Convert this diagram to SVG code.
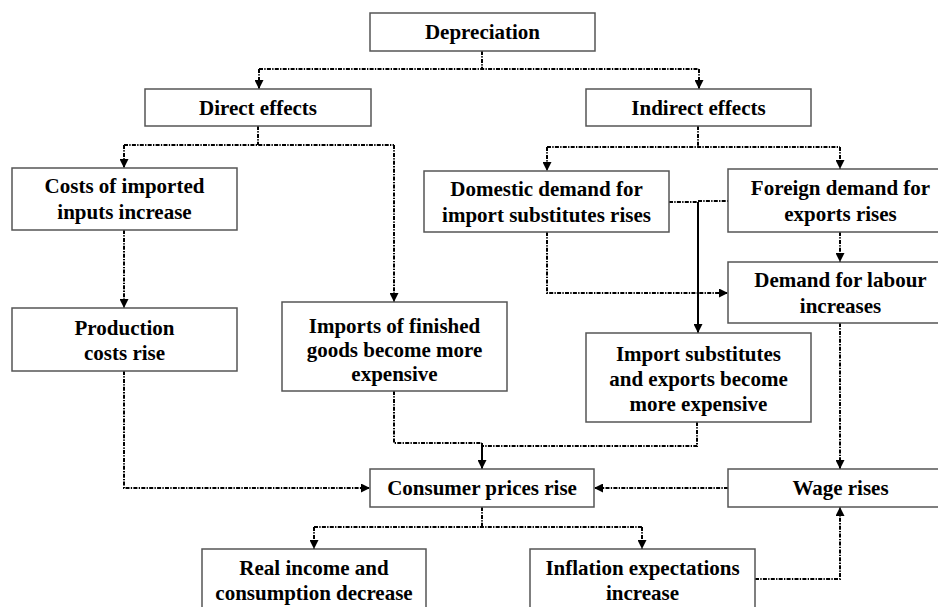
<svg xmlns="http://www.w3.org/2000/svg" width="938" height="607" viewBox="0 0 938 607">
<style>
.box{fill:#fff;stroke:#555;stroke-width:1.5}
.t{font-family:"Liberation Serif","Times New Roman",serif;font-weight:bold;font-size:21px;fill:#000;text-anchor:middle}
.d{fill:none;stroke:#000;stroke-width:2;stroke-dasharray:4 1.3 1.3 1.3}
.s{fill:none;stroke:#000;stroke-width:2}
</style>
<defs>
<marker id="ah" viewBox="0 0 10 10" refX="10" refY="5" markerWidth="10" markerHeight="9" markerUnits="userSpaceOnUse" orient="auto">
<path d="M0,0 L10,5 L0,10 z" fill="#000"/>
</marker>
</defs>
<rect width="938" height="607" fill="#fff"/>
<g id="connectors">
<path class="d" d="M482,51 V69 M259,69 H699"/>
<path class="d" d="M259,69 V89" marker-end="url(#ah)"/>
<path class="d" d="M699,69 V89" marker-end="url(#ah)"/>
<path class="d" d="M258,126 V145 M124,145 H394"/>
<path class="d" d="M124,145 V168" marker-end="url(#ah)"/>
<path class="d" d="M394,145 V302" marker-end="url(#ah)"/>
<path class="d" d="M698,126 V147 M547,147 H840"/>
<path class="d" d="M547,147 V171" marker-end="url(#ah)"/>
<path class="d" d="M840,147 V169" marker-end="url(#ah)"/>
<path class="d" d="M124,230 V308" marker-end="url(#ah)"/>
<path class="d" d="M547,232 V293 H728" marker-end="url(#ah)"/>
<path class="d" d="M669,202 H698 M698,201 H728"/>
<path class="s" d="M698,202 V333" marker-end="url(#ah)"/>
<path class="d" d="M840,232 V262" marker-end="url(#ah)"/>
<path class="d" d="M840,323 V469" marker-end="url(#ah)"/>
<path class="d" d="M124,371 V488 H370" marker-end="url(#ah)"/>
<path class="d" d="M394,391 V443 H482 M697,422 V446 H482"/>
<path class="s" d="M482,443 V469" marker-end="url(#ah)"/>
<path class="d" d="M728,488 H594" marker-end="url(#ah)"/>
<path class="d" d="M482,507 V527 M314,527 H642"/>
<path class="d" d="M314,527 V549" marker-end="url(#ah)"/>
<path class="d" d="M642,527 V549" marker-end="url(#ah)"/>
<path class="d" d="M755,579 H840 V507" marker-end="url(#ah)"/>
</g>
<g id="depreciation"><rect class="box" x="370" y="13" width="225" height="38"/><text class="t" x="482.5" y="39">Depreciation</text></g>
<g id="direct"><rect class="box" x="145" y="89" width="226" height="37"/><text class="t" x="258" y="115">Direct effects</text></g>
<g id="indirect"><rect class="box" x="586" y="89" width="225" height="37"/><text class="t" x="698.5" y="115">Indirect effects</text></g>
<g id="costs"><rect class="box" x="12" y="168" width="225" height="62"/><text class="t" x="124.5" y="193">Costs of imported</text><text class="t" x="124.5" y="219">inputs increase</text></g>
<g id="domestic"><rect class="box" x="424" y="171" width="245" height="61"/><text class="t" x="546.5" y="196">Domestic demand for</text><text class="t" x="546.5" y="222">import substitutes rises</text></g>
<g id="foreign"><rect class="box" x="728" y="169" width="225" height="63"/><text class="t" x="840.5" y="195">Foreign demand for</text><text class="t" x="840.5" y="221">exports rises</text></g>
<g id="labour"><rect class="box" x="728" y="262" width="225" height="61"/><text class="t" x="840.5" y="287">Demand for labour</text><text class="t" x="840.5" y="313">increases</text></g>
<g id="production"><rect class="box" x="12" y="308" width="225" height="63"/><text class="t" x="124.5" y="335">Production</text><text class="t" x="124.5" y="360">costs rise</text></g>
<g id="imports"><rect class="box" x="282" y="302" width="225" height="89"/><text class="t" x="394.5" y="333">Imports of finished</text><text class="t" x="394.5" y="357">goods become more</text><text class="t" x="394.5" y="381">expensive</text></g>
<g id="substitutes"><rect class="box" x="586" y="333" width="225" height="89"/><text class="t" x="698.5" y="361">Import substitutes</text><text class="t" x="698.5" y="386">and exports become</text><text class="t" x="698.5" y="411">more expensive</text></g>
<g id="consumer"><rect class="box" x="370" y="469" width="224" height="38"/><text class="t" x="482" y="495">Consumer prices rise</text></g>
<g id="wage"><rect class="box" x="728" y="469" width="225" height="38"/><text class="t" x="840.5" y="495">Wage rises</text></g>
<g id="realincome"><rect class="box" x="202" y="549" width="224" height="64"/><text class="t" x="314" y="575">Real income and</text><text class="t" x="314" y="600">consumption decrease</text></g>
<g id="inflation"><rect class="box" x="530" y="549" width="225" height="64"/><text class="t" x="642.5" y="575">Inflation expectations</text><text class="t" x="642.5" y="600">increase</text></g>
</svg>
